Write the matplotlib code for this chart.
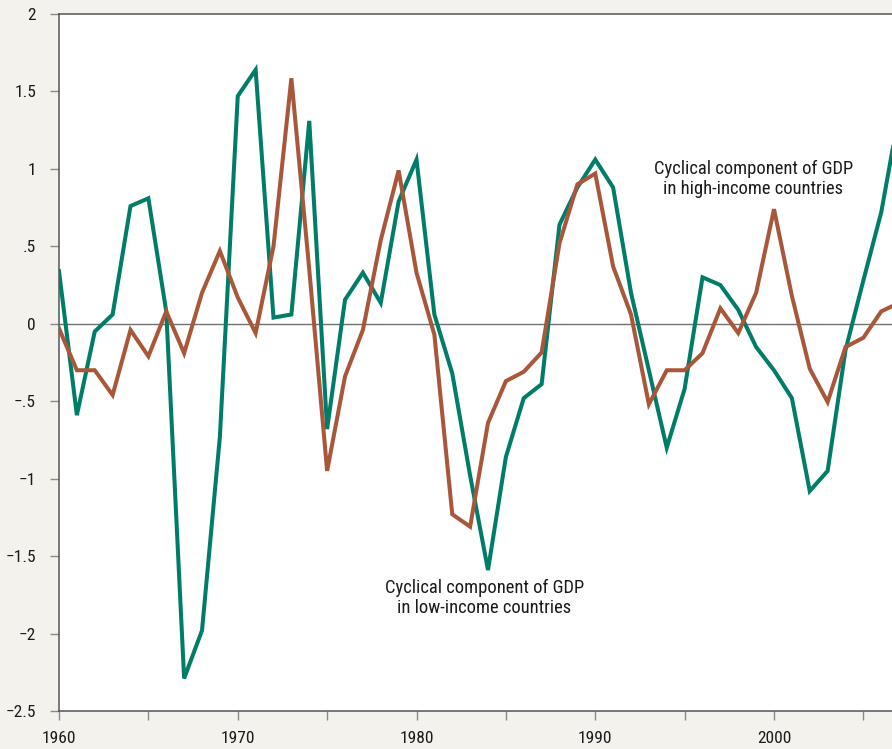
import matplotlib
matplotlib.use("Agg")
import matplotlib.pyplot as plt
from matplotlib.ticker import FixedLocator, FixedFormatter, MultipleLocator

plt.rcParams['font.family'] = ['Roboto Condensed', 'Liberation Sans Narrow', 'Roboto', 'DejaVu Sans']

years = list(range(1960, 2008))
low_income = [0.34, -0.59, -0.05, 0.06, 0.76, 0.81, 0.08, -2.29, -1.98, -0.73,
              1.47, 1.64, 0.04, 0.06, 1.31, -0.68, 0.155, 0.33, 0.135, 0.79,
              1.06, 0.06, -0.32, -0.98, -1.59, -0.86, -0.48, -0.39, 0.64, 0.88,
              1.06, 0.88, 0.20, -0.30, -0.80, -0.42, 0.30, 0.25, 0.09, -0.15,
              -0.30, -0.48, -1.08, -0.95, -0.17, 0.28, 0.72, 1.36]
high_income = [-0.03, -0.30, -0.30, -0.46, -0.04, -0.21, 0.08, -0.19, 0.20, 0.47,
               0.17, -0.06, 0.50, 1.585, 0.35, -0.95, -0.34, -0.04, 0.54, 0.99,
               0.33, -0.07, -1.23, -1.31, -0.64, -0.37, -0.31, -0.185, 0.52, 0.90,
               0.97, 0.37, 0.06, -0.52, -0.30, -0.30, -0.19, 0.10, -0.06, 0.20,
               0.74, 0.18, -0.29, -0.505, -0.15, -0.09, 0.08, 0.135]

ytick_values = [2, 1.5, 1, 0.5, 0, -0.5, -1, -1.5, -2, -2.5]
ytick_labels = ["2", "1.5", "1", ".5", "0", "\u2212.5", "\u22121", "\u22121.5", "\u22122", "\u22122.5"]
xtick_values = [1960, 1970, 1980, 1990, 2000]
xtick_labels = ["1960", "1970", "1980", "1990", "2000"]

label_high = "Cyclical component of GDP\nin high-income countries"
label_low = "Cyclical component of GDP\nin low-income countries"

GREEN = "#007d68"
ORANGE = "#a9573a"
BG = "#f3f2ed"

W, H = 892, 749
fig = plt.figure(figsize=(W / 100, H / 100), dpi=100)
fig.patch.set_facecolor(BG)
ax = fig.add_axes([59 / W, (H - 711) / H, 1 - 59 / W, (711 - 14) / H])
ax.set_facecolor("white")

ax.axhline(0, color="#707070", lw=1.0, zorder=1)
ax.plot(years, low_income, color=GREEN, lw=2.9, zorder=3, solid_joinstyle="miter")
ax.plot(years, high_income, color=ORANGE, lw=2.9, zorder=4, solid_joinstyle="miter")

ax.set_xlim(1960, 1960 + (W - 59) / 17.875)
ax.set_ylim(-2.5, 2)

ax.yaxis.set_major_locator(FixedLocator(ytick_values))
ax.yaxis.set_major_formatter(FixedFormatter(ytick_labels))
ax.xaxis.set_major_locator(FixedLocator(xtick_values))
ax.xaxis.set_major_formatter(FixedFormatter(xtick_labels))
ax.xaxis.set_minor_locator(MultipleLocator(5))

ax.tick_params(axis="both", which="both", direction="out", length=6.5,
               width=1, color="#8a8a8a", labelsize=12.5, labelcolor="#1a1a1a")
ax.tick_params(axis="y", pad=10)
ax.tick_params(axis="x", which="both", pad=8)

for s in ["left", "bottom", "top"]:
    ax.spines[s].set_color("#555555")
    ax.spines[s].set_linewidth(1.1)
ax.spines["right"].set_visible(False)

ax.text(1998.85, 0.935, label_high, ha="center", va="center", fontsize=13.3,
        color="#1a1a1a", linespacing=1.2)
ax.text(1983.8, -1.77, label_low, ha="center", va="center", fontsize=13.3,
        color="#1a1a1a", linespacing=1.2)

fig.savefig("out.png", dpi=100, facecolor=BG)
